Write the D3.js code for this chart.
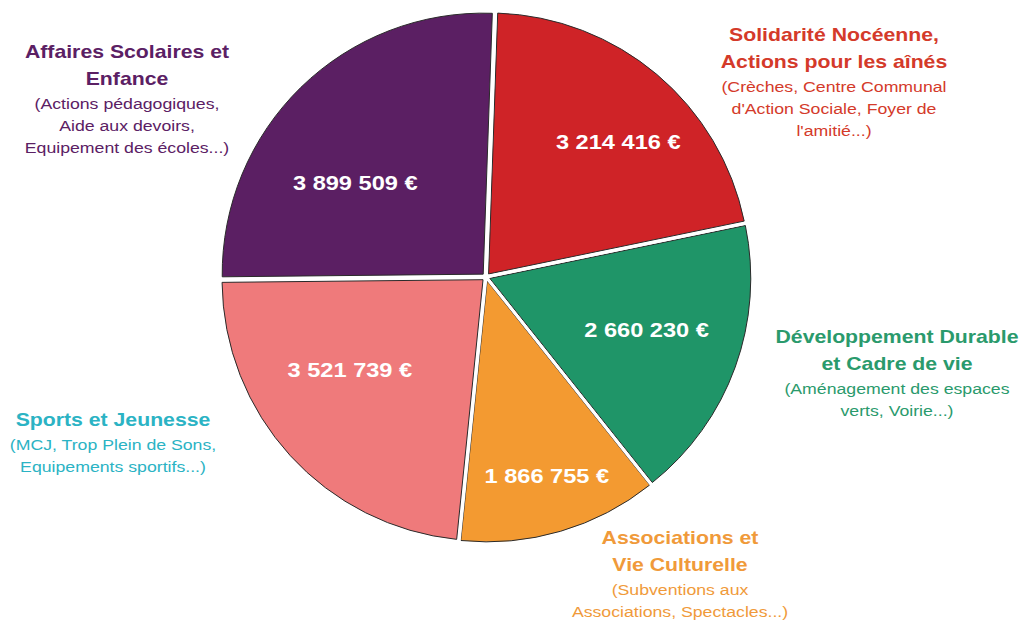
<!DOCTYPE html>
<html>
<head>
<meta charset="utf-8">
<script src="https://cdn.jsdelivr.net/npm/d3@7"></script>
<style>
  body { margin: 0; background: #ffffff; }
  svg { display: block; }
</style>
</head>
<body>
<div id="chart"></div>
<script>
// budget by area, clockwise from the top
const categories = ["Solidarité", "Développement", "Associations", "Sports", "Affaires Scolaires"];
const values = [3214416, 2660230, 1866755, 3521739, 3899509];
const titleLines = [
    ["Solidarité Nocéenne,", "Actions pour les aînés"],
    ["Développement Durable", "et Cadre de vie"],
    ["Associations et", "Vie Culturelle"],
    ["Sports et Jeunesse"],
    ["Affaires Scolaires et", "Enfance"]
];
const subLines = [
    ["(Crèches, Centre Communal", "d'Action Sociale, Foyer de", "l'amitié...)"],
    ["(Aménagement des espaces", "verts, Voirie...)"],
    ["(Subventions aux", "Associations, Spectacles...)"],
    ["(MCJ, Trop Plein de Sons,", "Equipements sportifs...)"],
    ["(Actions pédagogiques,", "Aide aux devoirs,", "Equipement des écoles...)"]
];

const sliceColors = ["#cf2327", "#1f9568", "#f39a31", "#ef7a7b", "#5b1f63"];
const textColors = ["#d43a2a", "#2a9a6c", "#f09a3a", "#2bb3c4", "#5b2064"];

const width = 1027, height = 620;
const cx = 486, cy = 277, radius = 261, explode = 4;
const stretch = 1.18;

// where each text block sits
const valuePos = [[44.4, 189], [108.2, 169], [163, 208], [235.6, 165], [305.7, 161]]; // [deg, px] from centre
const labelPos = [[834, 35], [897, 337], [680, 538], [113, 420], [127, 52]];

const fmt = d3.formatLocale({ decimal: ",", thousands: " ", grouping: [3], currency: ["", " €"] }).format("$,.0f");

const svg = d3.select("#chart").append("svg")
    .attr("width", width)
    .attr("height", height);

const pie = d3.pie()
    .sort(null)
    .startAngle(2 * Math.PI / 180)
    .endAngle(2 * Math.PI / 180 + 2 * Math.PI)
    .value(d => d);

const arc = d3.arc().innerRadius(0).outerRadius(radius);
const arcs = pie(values);

const g = svg.append("g").attr("transform", `translate(${cx}, ${cy})`);

g.selectAll("path")
    .data(arcs)
    .join("path")
    .attr("d", arc)
    .attr("transform", d => {
        const a = (d.startAngle + d.endAngle) / 2;
        return `translate(${explode * Math.sin(a)}, ${-explode * Math.cos(a)})`;
    })
    .attr("fill", (d, i) => sliceColors[i])
    .attr("stroke", "#2a2a2a")
    .attr("stroke-width", 1);

// white gaps between slices
g.selectAll("line.gap")
    .data(arcs)
    .join("line")
    .attr("class", "gap")
    .attr("x1", 0).attr("y1", 0)
    .attr("x2", d => (radius + 10) * Math.sin(d.startAngle))
    .attr("y2", d => -(radius + 10) * Math.cos(d.startAngle))
    .attr("stroke", "#ffffff")
    .attr("stroke-width", 3);

g.selectAll("text.value")
    .data(arcs)
    .join("text")
    .attr("class", "value")
    .attr("transform", (d, i) => {
        const a = valuePos[i][0] * Math.PI / 180, r = valuePos[i][1];
        return `translate(${r * Math.sin(a)}, ${-r * Math.cos(a)}) scale(${stretch}, 1)`;
    })
    .attr("text-anchor", "middle")
    .attr("dy", "0.36em")
    .attr("font-family", "'Liberation Sans', Arial, sans-serif")
    .attr("font-weight", "bold")
    .attr("font-size", 20)
    .attr("fill", "#ffffff")
    .text(d => fmt(d.data));

categories.forEach((c, i) => {
    const block = svg.append("g")
        .attr("transform", `translate(${labelPos[i][0]}, ${labelPos[i][1]}) scale(${stretch}, 1)`)
        .attr("font-family", "'Liberation Sans', Arial, sans-serif")
        .attr("text-anchor", "middle")
        .attr("fill", textColors[i]);

    titleLines[i].forEach((t, j) => {
        block.append("text")
            .attr("y", j * 27)
            .attr("dy", "0.36em")
            .attr("font-weight", "bold")
            .attr("font-size", 18)
            .text(t);
    });

    const subTop = (titleLines[i].length - 1) * 27 + 25;
    subLines[i].forEach((t, j) => {
        block.append("text")
            .attr("y", subTop + j * 22)
            .attr("dy", "0.36em")
            .attr("font-size", 15)
            .text(t);
    });
});
</script>
</body>
</html>
